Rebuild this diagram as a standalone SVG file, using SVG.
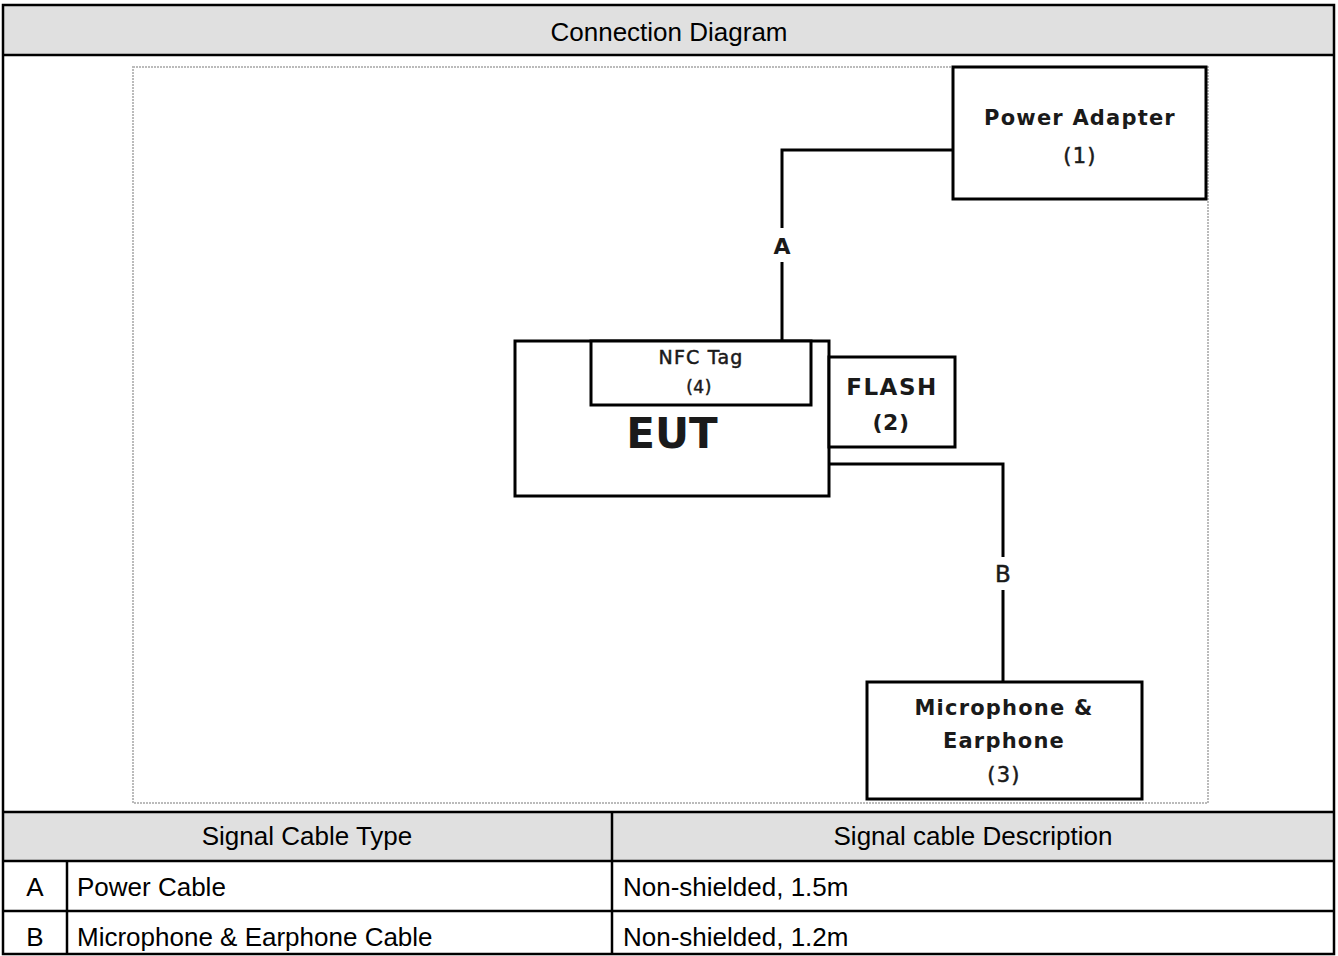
<svg xmlns="http://www.w3.org/2000/svg" width="1338" height="956" viewBox="0 0 1338 956">
<style>
.tbl{fill:none;stroke:#000;stroke-width:2.5}
.hdr{fill:#e0e0e0}
.tt{font-family:"Liberation Sans",Arial,sans-serif;font-size:26px;fill:#000}
.box{fill:#fff;stroke:#000;stroke-width:3}
.lbl{font-family:"DejaVu Sans",Verdana,sans-serif;font-weight:bold;font-size:21px;letter-spacing:1.2px;fill:#1a1a1a;text-anchor:middle}
.thin{font-weight:normal;stroke:#1a1a1a;stroke-width:0.5}
.wire{fill:none;stroke:#000;stroke-width:3}
.frame{fill:none;stroke:#bbb;stroke-width:2;stroke-dasharray:2 1}
</style>
<rect x="0" y="0" width="1338" height="956" fill="#fff"/>
<g id="table">
<rect class="hdr" x="3" y="5" width="1331" height="50"/>
<rect class="hdr" x="3" y="812" width="1331" height="49"/>
<rect class="tbl" x="3" y="5" width="1331" height="949" stroke-width="3"/>
<line class="tbl" x1="3" y1="55" x2="1334" y2="55"/>
<line class="tbl" x1="3" y1="812" x2="1334" y2="812"/>
<line class="tbl" x1="3" y1="861" x2="1334" y2="861"/>
<line class="tbl" x1="3" y1="911" x2="1334" y2="911"/>
<line class="tbl" x1="612" y1="812" x2="612" y2="954"/>
<line class="tbl" x1="67" y1="861" x2="67" y2="954"/>
<text class="tt" x="669" y="41" text-anchor="middle">Connection Diagram</text>
<text class="tt" x="307" y="845" text-anchor="middle">Signal Cable Type</text>
<text class="tt" x="973" y="845" text-anchor="middle">Signal cable Description</text>
<text class="tt" x="35" y="896" text-anchor="middle">A</text>
<text class="tt" x="77" y="896">Power Cable</text>
<text class="tt" x="623" y="896">Non-shielded, 1.5m</text>
<text class="tt" x="35" y="946" text-anchor="middle">B</text>
<text class="tt" x="77" y="946">Microphone &amp; Earphone Cable</text>
<text class="tt" x="623" y="946">Non-shielded, 1.2m</text>
</g>
<rect class="frame" x="133" y="67" width="1075" height="736"/>
<g id="connectors">
<path class="wire" d="M953,150 H782 V228 M782,262 V341"/>
<path class="wire" d="M829,464 H1003 V557 M1003,590 V682"/>
<text class="lbl" x="782" y="254" style="font-size:22px;letter-spacing:0">A</text>
<text class="lbl thin" x="1003" y="582" style="font-size:23px;letter-spacing:0">B</text>
</g>
<g id="power-adapter">
<rect class="box" x="953" y="67" width="253" height="132"/>
<text class="lbl" x="1080" y="125">Power Adapter</text>
<text class="lbl thin" x="1080" y="163">(1)</text>
</g>
<g id="eut">
<rect class="box" x="515" y="341" width="314" height="155"/>
<text class="lbl" x="672" y="448" style="font-size:42px;letter-spacing:0">EUT</text>
</g>
<g id="nfc-tag">
<rect class="box" x="591" y="341" width="220" height="64"/>
<text class="lbl thin" x="701" y="364" style="font-size:19px;letter-spacing:1.2px">NFC Tag</text>
<text class="lbl thin" x="699" y="393" style="font-size:17px;letter-spacing:0.5px">(4)</text>
</g>
<g id="flash">
<rect class="box" x="829" y="357" width="126" height="90"/>
<text class="lbl" x="892" y="395" style="font-size:23px;letter-spacing:1.5px">FLASH</text>
<text class="lbl" x="891" y="430" style="font-size:22px;letter-spacing:0.5px">(2)</text>
</g>
<g id="mic-earphone">
<rect class="box" x="867" y="682" width="275" height="117"/>
<text class="lbl" x="1004" y="715">Microphone &amp;</text>
<text class="lbl" x="1004" y="748">Earphone</text>
<text class="lbl thin" x="1004" y="782">(3)</text>
</g>
</svg>
